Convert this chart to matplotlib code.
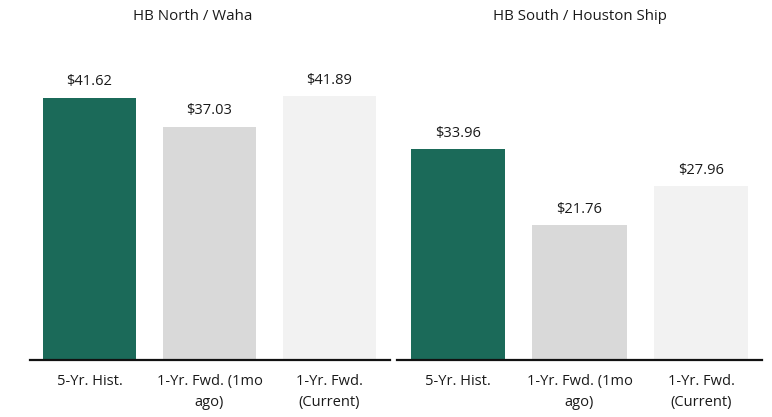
import matplotlib
matplotlib.use("Agg")
import matplotlib.pyplot as plt

plt.rcParams['font.family'] = ['Open Sans', 'DejaVu Sans']

# data
categories = ["5-Yr. Hist.", "1-Yr. Fwd. (1mo\nago)", "1-Yr. Fwd.\n(Current)"]
north_values = [41.62, 37.03, 41.89]
south_values = [33.96, 21.76, 27.96]
panel_titles = ["HB North / Waha", "HB South / Houston Ship"]
bar_colors = ["#1b6a59", "#d9d9d9", "#f2f2f2"]

W, H = 772, 417
fig = plt.figure(figsize=(W / 100, H / 100), dpi=100)

# axes boxes in pixels: left, baseline(from top), width, height
boxes = [(29.5, 360, 360, 45 * 6.30), (397, 360, 365, 45 * 6.21)]
title_x = [193, 580]

for box, vals, title, tx in zip(boxes, [north_values, south_values], panel_titles, title_x):
    left, base, width, height = box
    ax = fig.add_axes([left / W, (H - base) / H, width / W, height / H])
    x = range(len(categories))
    bars = ax.bar(x, vals, width=0.775, color=bar_colors)
    for b, v in zip(bars, vals):
        ax.annotate(f"${v:.2f}", (b.get_x() + b.get_width() / 2, v),
                    xytext=(0, 6), textcoords="offset points",
                    ha="center", va="bottom", fontsize=10.5, color="#1a1a1a")
    ax.set_xlim(-0.5, 2.5)
    ax.set_ylim(0, 45)
    ax.set_xticks(list(x))
    ax.set_xticklabels(categories, fontsize=10.5, color="#1a1a1a", linespacing=1.6)
    ax.tick_params(axis="x", length=0, pad=10)
    ax.set_yticks([])
    for s in ["top", "right", "left"]:
        ax.spines[s].set_visible(False)
    ax.spines["bottom"].set_linewidth(1.6)
    ax.spines["bottom"].set_color("#111111")
    fig.text(tx / W, 1 - 16 / H, title, ha="center", va="center", fontsize=10.8, color="#1a1a1a")

fig.savefig("out.png", dpi=100)
